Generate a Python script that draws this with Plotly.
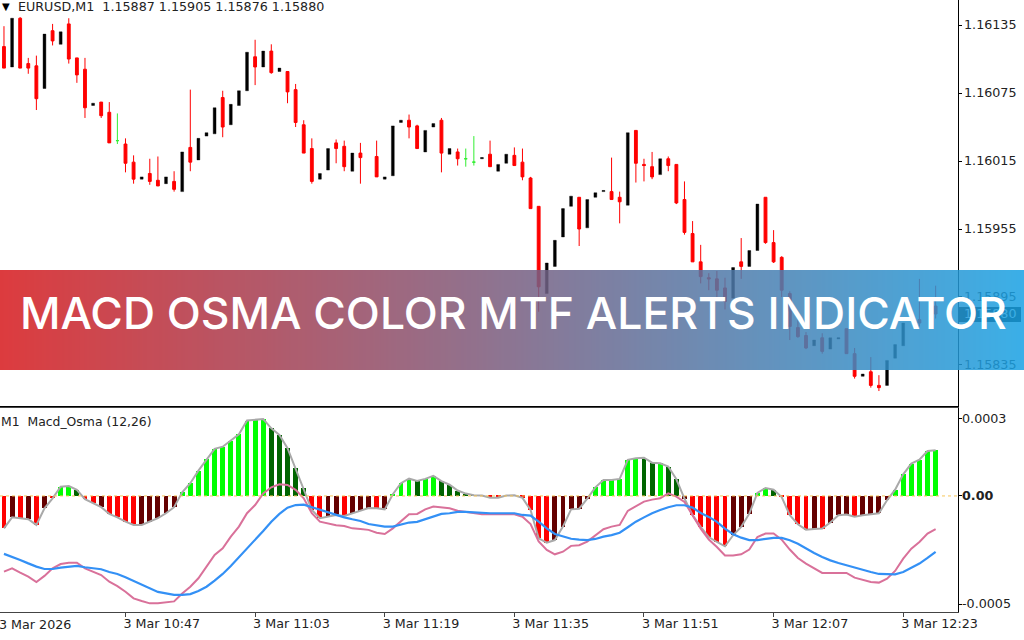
import plotly.graph_objects as go

# prices are points above/below 1.16000 (1 point = 0.00001), None = no candle drawn
PRICE_BASE = 1.16
open_pts = [116, 98, 141, 101, 99, 79, 130, 118, 136, 106, 96, 64, 67, 58, 33, 30, 14, -1, 4, -2, -5, -3, -12, 27, 16, 37, 39, 71, 47, 64, 77, 107, 98, 112, 94, 94, 78, 47, 26, -1, 7, 31,
            28, 6, 22, None, 19, -1, 2, 49, 51, 46, 23, 45, 51, 21, 23, 17, 14, 17, 21, 6, 13, 20, 14, 0, -25, -102, -78, -52, -25, -17, -44, -17, -12, -12, -17, -24, 42, 12, 10, 3, 17, 12,
            -19, -49, -74, -88, -89, -97, -106, -74, -78, -64, -17, -57, -70, -102, -132, -139, -148, -141, -151, -142, -133, -155, -175, -171, -183, -183, -159, -148, None, -125, None, -113]
close_pts = [97, 141, 97, 97, 70, 127, 121, 129, 105, 91, 62, 66, 55, 31, 33, 13, -1, 1, -3, -7, 1, -10, 23, 14, 35, 40, 62, 45, 65, 77, 111, 98, 112, 93, 97, 76, 49, 22, -3, 4, 26, 26,
             10, 22, 18, None, 1, 1, 46, 51, 45, 26, 42, 48, 22, 26, 17, 17, 14, 18, 10, 12, 21, 11, 1, -27, -96, -75, -55, -27, -16, -45, -19, -13, -11, -19, -21, 40, 13, 11, 1, 17, 11, -22,
             -48, -74, -87, -89, -99, -109, -79, -78, -64, -23, -57, -74, -99, -131, -140, -150, -143, -153, -141, -141, -155, -175, -173, -183, -185, -161, -147, -128, None, -128, None, -120]
high_pts = [134, 141, 142, 106, 108, 127, 136, 129, 141, 106, 106, 66, 67, 67, 57, 35, 20, 1, 17, 19, 1, 6, 23, 78, 35, 40, 62, 77, 65, 77, 111, 122, 112, 118, 97, 94, 83, 51, 35, 4, 26, 34,
            33, 22, 31, None, 33, 1, 46, 51, 56, 47, 42, 48, 53, 26, 26, 26, 37, 18, 33, 12, 21, 27, 26, 1, -25, -75, -55, -27, -16, -17, -19, -13, -11, 18, -12, 40, 42, 17, 23, 17, 19, 12,
            -3, -38, -59, -84, -82, -88, -79, -53, -64, -23, -17, -46, -69, -100, -125, -136, -143, -137, -141, -141, -133, -150, -173, -158, -174, -161, -147, -128, None, -89, None, -95]
low_pts = [97, 98, 97, 92, 60, 79, 117, 118, 101, 84, 53, 64, 53, 31, 30, 5, -5, -1, -6, -7, -5, -12, -12, 6, 16, 37, 39, 36, 47, 64, 77, 82, 98, 92, 94, 66, 45, 22, -5, -1, 7, 13,
           6, 6, -5, None, 1, -1, 2, 49, 35, 26, 23, 45, 5, 21, 11, 10, 11, 17, 10, 6, 13, 11, -2, -27, -118, -102, -78, -52, -25, -60, -44, -17, -12, -19, -40, -24, -4, -3, -1, 3, 6, -23,
           -50, -74, -93, -99, -108, -116, -106, -89, -78, -64, -58, -75, -105, -143, -141, -151, -148, -155, -151, -142, -155, -177, -175, -185, -188, -183, -159, -148, None, -131, None, -124]

# oscillator pane, values in millionths
osma = [-150, -99, -103, -108, -134, -57, -11, 43, 46, 28, -15, -34, -52, -83, -99, -119, -134, -134, -119, -103, -80, -52, 17, 59, 117, 170, 218, 228, 256, 285, 349, 352, 356, 313, 282, 221, 128, 35, -65, -103, -96, -88,
        -93, -80, -68, -56, -57, -62, 8, 59, 80, 69, 79, 93, 69, 52, 25, 11, 3, 2, -8, -8, 2, 3, -9, -65, -196, -216, -204, -142, -62, -59, -12, 40, 74, 74, 79, 167, 174, 177, 154, 151, 136, 77,
        -12, -89, -143, -190, -213, -233, -182, -143, -82, 14, 37, 29, -5, -89, -131, -156, -153, -151, -123, -89, -86, -96, -89, -83, -80, -20, 29, 100, 150, 168, 208, 211]
osma_state = list("RMRMRMRLLDRRMRRRRMMMMMLLLLLLLLLLLDDDDDRRMMRMMMRMLLLDLLDDDDDDRRLLRRRRMMMMMLLLLLLDDLDDMRRRRRMMMLLDRRRRMRMMMRMMMMLLLLLL")
signal_line = [-350, -335, -355, -373, -398, -370, -335, -315, -309, -309, -335, -350, -366, -397, -417, -443, -474, -486, -497, -497, -491, -488, -451, -420, -381, -327, -273, -242, -188, -142, -80, -42, 12, 40, 54, 51, 28, -11, -80, -119, -127, -136,
               -139, -150, -153, -157, -170, -176, -150, -119, -85, -83, -62, -49, -52, -57, -68, -74, -77, -85, -85, -85, -85, -85, -96, -130, -211, -250, -270, -258, -231, -228, -211, -181, -154, -142, -134, -69, -46, -26, -17, -11, 12, -3,
               -28, -89, -151, -202, -236, -275, -275, -270, -248, -190, -174, -174, -202, -248, -287, -313, -336, -356, -356, -356, -356, -378, -387, -398, -401, -383, -347, -290, -244, -213, -174, -154]
slow_line = [-268, -281, -296, -312, -327, -338, -338, -332, -327, -324, -330, -335, -339, -352, -361, -376, -393, -412, -427, -444, -451, -458, -458, -454, -440, -420, -392, -361, -324, -284, -245, -204, -162, -119, -83, -54, -42, -40, -52, -65, -77, -88,
             -99, -108, -116, -130, -137, -142, -142, -133, -123, -120, -108, -93, -83, -80, -74, -74, -76, -80, -80, -80, -80, -80, -88, -91, -119, -150, -176, -188, -198, -202, -204, -199, -188, -181, -170, -145, -119, -99, -80, -65, -52, -43,
             -43, -54, -79, -97, -120, -151, -177, -193, -204, -204, -199, -194, -194, -205, -221, -244, -264, -282, -298, -310, -321, -333, -343, -352, -361, -363, -363, -352, -333, -313, -287, -259]

price_ticks = [1.16135, 1.16075, 1.16015, 1.15955, 1.15895, 1.15835]
last_close = 1.15880
osma_ticks = [0.000357, 0, -0.0005]
osma_tick_text = ["0.0003", "<b>0.00</b>", "-0.0005"]
time_ticks = [15, 31, 47, 63, 79, 95, 111]
time_labels = ["3 Mar 10:47", "3 Mar 11:03", "3 Mar 11:19", "3 Mar 11:35", "3 Mar 11:51", "3 Mar 12:07", "3 Mar 12:23"]

RED = "#ff0000"
STATE_COLORS = {"L": "#00ff00", "D": "#006400", "R": "#ff0000", "M": "#640000"}
AXIS_FONT = dict(family="DejaVu Sans", size=12.7, color="#222222")
W, H = 1024, 640

bars = list(range(len(open_pts)))
x_range = [-0.49, 117.7]


def py(px):
    return 1 - px / H


def candle_trace(kind, color, line_width):
    idx = []
    for i in bars:
        if open_pts[i] is None:
            continue
        if kind == "bear" and close_pts[i] < open_pts[i]:
            idx.append(i)
        if kind == "bull" and close_pts[i] > open_pts[i]:
            idx.append(i)
        if kind == "doji" and close_pts[i] == open_pts[i]:
            idx.append(i)
    return go.Candlestick(
        x=idx,
        open=[PRICE_BASE + open_pts[i] * 1e-5 for i in idx],
        high=[PRICE_BASE + high_pts[i] * 1e-5 for i in idx],
        low=[PRICE_BASE + low_pts[i] * 1e-5 for i in idx],
        close=[PRICE_BASE + close_pts[i] * 1e-5 for i in idx],
        increasing=dict(line=dict(color=color, width=line_width), fillcolor=color),
        decreasing=dict(line=dict(color=color, width=line_width), fillcolor=color),
        whiskerwidth=0,
        showlegend=False,
    )


fig = go.Figure()
fig.add_trace(candle_trace("bear", RED, 1))
fig.add_trace(candle_trace("bull", "#000000", 0.4))
fig.add_trace(candle_trace("doji", "#33ee33", 1))

fig.add_trace(go.Bar(x=bars, y=[v * 1e-6 for v in osma], xaxis="x2", yaxis="y2", width=0.6,
                     marker=dict(color=[STATE_COLORS[s] for s in osma_state], line=dict(width=0))))
fig.add_trace(go.Scatter(x=bars, y=[v * 1e-6 for v in osma], xaxis="x2", yaxis="y2", mode="lines",
                         line=dict(color="#a9a9a9", width=2)))
fig.add_trace(go.Scatter(x=bars, y=[v * 1e-6 for v in signal_line], xaxis="x2", yaxis="y2", mode="lines",
                         line=dict(color="#d9719a", width=2)))
fig.add_trace(go.Scatter(x=bars, y=[v * 1e-6 for v in slow_line], xaxis="x2", yaxis="y2", mode="lines",
                         line=dict(color="#3390f5", width=2.2)))

# banner gradient sits on its own axes so it covers the first two panes
fig.add_trace(go.Heatmap(x=[0, 1], y=[0, 1], z=[[0, 1], [0, 1]], xaxis="x3", yaxis="y3", zsmooth="best",
                         colorscale=[[0, "rgb(215,26,29)"], [1, "rgb(25,162,228)"]], showscale=False, opacity=0.85))

fig.update_layout(
    width=W, height=H,
    margin=dict(l=0, r=0, t=0, b=0, autoexpand=False),
    paper_bgcolor="white", plot_bgcolor="rgba(0,0,0,0)",
    showlegend=False, boxgap=0.5, bargap=0,
    xaxis=dict(domain=[0, 957.5 / W], range=x_range, anchor="y", showticklabels=False, ticks="",
               showgrid=False, zeroline=False, showline=True, linecolor="black", linewidth=1,
               rangeslider=dict(visible=False)),
    yaxis=dict(domain=[py(406), 1], range=[1.157988, 1.161571], side="right", anchor="x",
               tickvals=price_ticks + [last_close],
               ticktext=[f"{p:.5f}" for p in price_ticks] + [f'<span style="color:#ffffff">{last_close:.5f}</span>'],
               ticks="outside", ticklen=3, tickcolor="black", tickfont=AXIS_FONT,
               showgrid=False, zeroline=False, showline=True, linecolor="black", linewidth=1),
    xaxis2=dict(domain=[0, 957.5 / W], range=x_range, anchor="y2", tickvals=time_ticks, ticktext=time_labels,
                ticklabelposition="outside right", ticklabelshift=-3, ticks="outside", ticklen=4, tickcolor="#444444",
                tickfont=AXIS_FONT, showgrid=False, zeroline=False, showline=True, mirror=True,
                linecolor="#444444", linewidth=1),
    yaxis2=dict(domain=[py(612), py(408)], range=[-0.000537, 0.000407], side="right", anchor="x2",
                tickvals=osma_ticks, ticktext=osma_tick_text, ticks="outside", ticklen=3, tickcolor="black",
                ticklabelstandoff=-2, tickfont=AXIS_FONT, showgrid=False, zeroline=False, showline=True,
                linecolor="black", linewidth=1),
    xaxis3=dict(domain=[0, 1], range=[0, 1], anchor="y3", visible=False),
    yaxis3=dict(domain=[py(370), py(270)], range=[0, 1], anchor="x3", visible=False),
    shapes=[
        # zero line of the oscillator
        dict(type="line", xref="x2 domain", yref="y2", x0=0, x1=1, y0=0, y1=0, layer="above",
             line=dict(color="#f7c65a", width=1, dash="3px,3px")),
        # box behind the current price label
        dict(type="rect", xref="paper", yref="paper", x0=958 / W, x1=1021 / W, y0=py(322), y1=py(307),
             fillcolor="black", line=dict(width=0), layer="below"),
    ],
    annotations=[
        dict(text="MACD OSMA COLOR MTF ALERTS INDICATOR", xref="paper", yref="paper", x=513.5 / W, y=py(313),
             yanchor="middle", showarrow=False, font=dict(family="Inter", size=44.4, color="white", weight=500)),
        dict(text="▼", xref="paper", yref="paper", x=0, y=py(6), xanchor="left", yanchor="middle", showarrow=False,
             font=dict(family="DejaVu Sans", size=10, color="black")),
        dict(text="EURUSD,M1  1.15887 1.15905 1.15876 1.15880", xref="paper", yref="paper", x=16 / W, y=py(6),
             xanchor="left", yanchor="middle", showarrow=False, font=AXIS_FONT),
        dict(text="M1  Macd_Osma (12,26)", xref="paper", yref="paper", x=-1 / W, y=py(421), xanchor="left",
             yanchor="middle", showarrow=False, font=dict(family="DejaVu Sans", size=12.4, color="#222222")),
        dict(text="3 Mar 2026", xref="paper", yref="paper", x=-3 / W, y=py(624), xanchor="left",
             yanchor="middle", showarrow=False, font=AXIS_FONT),
    ],
)

# the page body has a default margin, drop it so the figure fills the window
fig.write_html("out.html", config={"displayModeBar": False},
               post_script="document.body.style.margin='0';document.documentElement.style.overflow='hidden';")
